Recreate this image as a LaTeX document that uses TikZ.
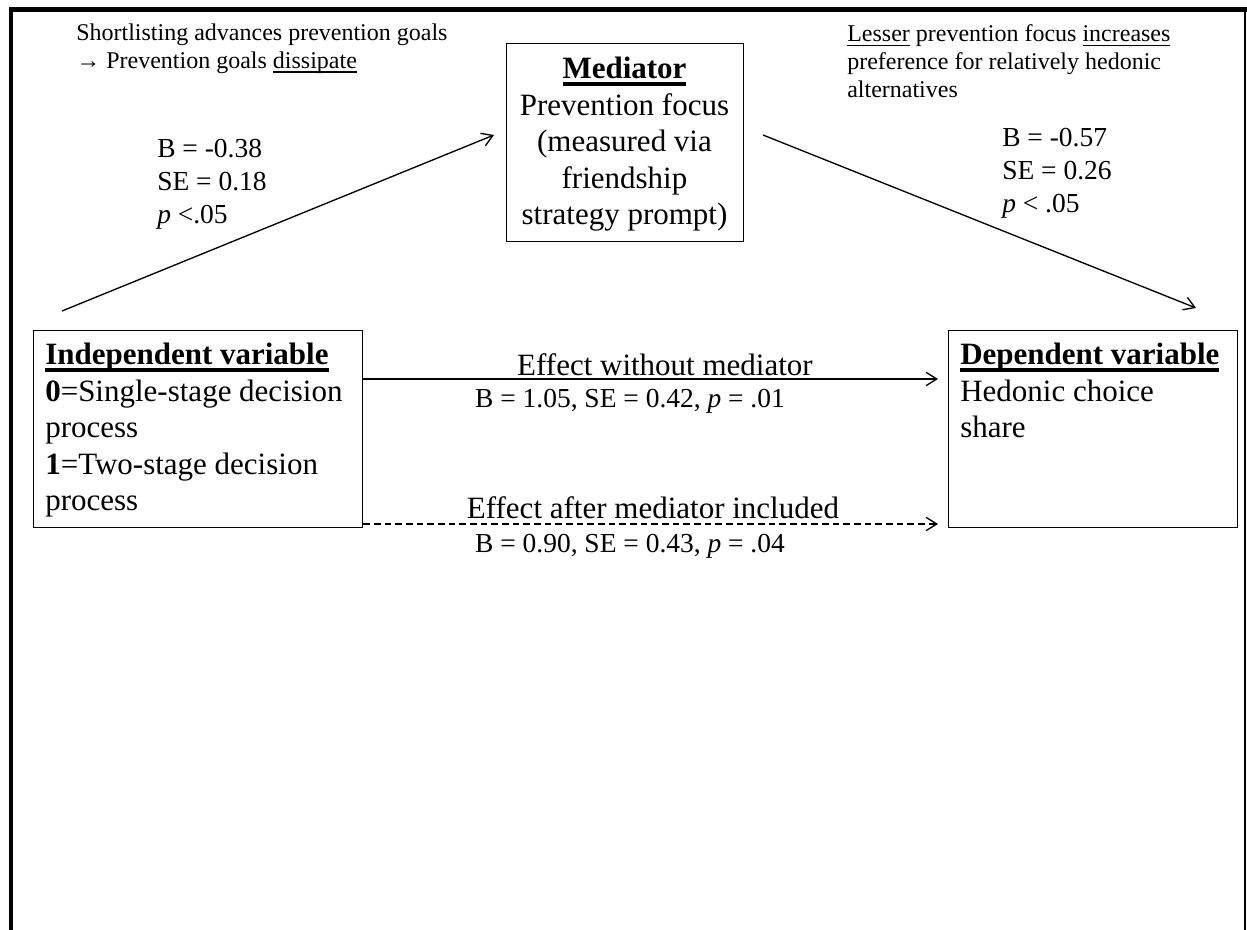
\documentclass[tikz,border=0pt]{standalone}
\usepackage{fontspec}
\setmainfont{Liberation Serif}
\usetikzlibrary{arrows.meta}
\newcommand\FontMain{\fontsize{23.25pt}{27.3pt}\selectfont}
\newcommand\FontStat{\fontsize{20.6pt}{24.4pt}\selectfont}
\newcommand\FontSmall{\fontsize{18pt}{20.7pt}\selectfont}
\newcommand\ulb[1]{\leavevmode\setbox0=\hbox{#1}\rlap{\rule[-0.21em]{\wd0}{0.11em}}\box0\relax}
\newcommand\ulr[1]{\leavevmode\setbox0=\hbox{#1}\rlap{\rule[-0.17em]{\wd0}{0.06em}}\box0\relax}
\begin{document}
\begin{tikzpicture}[x=0.75pt,y=-0.75pt,
  box/.style={draw, line width=0.9pt, inner sep=0pt, anchor=north west},
  conn/.style={line width=1pt, -{Straight Barb[length=8pt,width=10pt]}},
  txt/.style={inner sep=0pt, anchor=base west},
  ctxt/.style={inner sep=0pt, anchor=base}]
\useasboundingbox (0,0) rectangle (1247,930);
\fill[white] (0,0) rectangle (1247,930);
% frame
\draw[line width=3.6pt, line join=miter] (11,930) -- (11,9.5) -- (1247,9.5);
\draw[line width=1.3pt] (1245,9.5) -- (1245,930);
% boxes
\node[box, minimum width=177.75pt, minimum height=148.5pt] (med) at (506,43) {};
\node[box, minimum width=246.75pt, minimum height=147.75pt] (iv) at (33,330) {};
\node[box, minimum width=216.75pt, minimum height=147.75pt] (dv) at (948,330) {};
% box texts
\node[ctxt, font=\FontMain] (medtxt) at (624.5,79) {\parbox[t]{230pt}{\centering \ulb{\textbf{Mediator}}\\ Prevention focus\\ (measured via\\ friendship\\ strategy prompt)}};
\node[txt, font=\FontMain] (ivtxt) at (45,365) {\parbox[t]{300pt}{\raggedright \ulb{\textbf{Independent variable}}\\ \textbf{0}=Single-stage decision\\ process\\ \textbf{1}=Two-stage decision\\ process}};
\node[txt, font=\FontMain] (dvtxt) at (960,365) {\parbox[t]{300pt}{\raggedright \ulb{\textbf{Dependent variable}}\\ Hedonic choice\\ share}};
% annotations
\node[txt, font=\FontSmall] (ann1) at (76,41) {\parbox[t]{400pt}{\raggedright Shortlisting advances prevention goals\\ → Prevention goals \ulr{dissipate}}};
\node[txt, font=\FontSmall] (ann2) at (847,42) {\parbox[t]{400pt}{\raggedright \ulr{Lesser} prevention focus \ulr{increases}\\ preference for relatively hedonic\\ alternatives}};
\node[txt, font=\FontStat] (st1) at (157,158) {\parbox[t]{150pt}{\raggedright B = -0.38\\ SE = 0.18\\ \textit{p} <.05}};
\node[txt, font=\FontStat] (st2) at (1002,147) {\parbox[t]{150pt}{\raggedright B = -0.57\\ SE = 0.26\\ \textit{p} < .05}};
% connectors
\coordinate (a1s) at (62,311);
\coordinate (a1e) at (494,135);
\coordinate (a2s) at (763,135);
\coordinate (a2e) at (1196,308);
\coordinate (a3e) at (938,379);
\coordinate (a4e) at (938,524);
\draw[conn] (a1s) -- (a1e);
\draw[conn] (a2s) -- (a2e);
\draw[conn] (iv.east |- a3e) -- (a3e);
\draw[conn, dash pattern=on 5pt off 3pt] (iv.east |- a4e) -- (a4e);
% connector labels
\node[ctxt, font=\FontMain] (l1) at (665,376) {Effect without mediator};
\node[ctxt, font=\FontStat] (l2) at (630,408) {B = 1.05, SE = 0.42, \textit{p} = .01};
\node[ctxt, font=\FontMain] (l3) at (653,519) {Effect after mediator included};
\node[ctxt, font=\FontStat] (l4) at (630,553) {B = 0.90, SE = 0.43, \textit{p} = .04};
\end{tikzpicture}
\end{document}
